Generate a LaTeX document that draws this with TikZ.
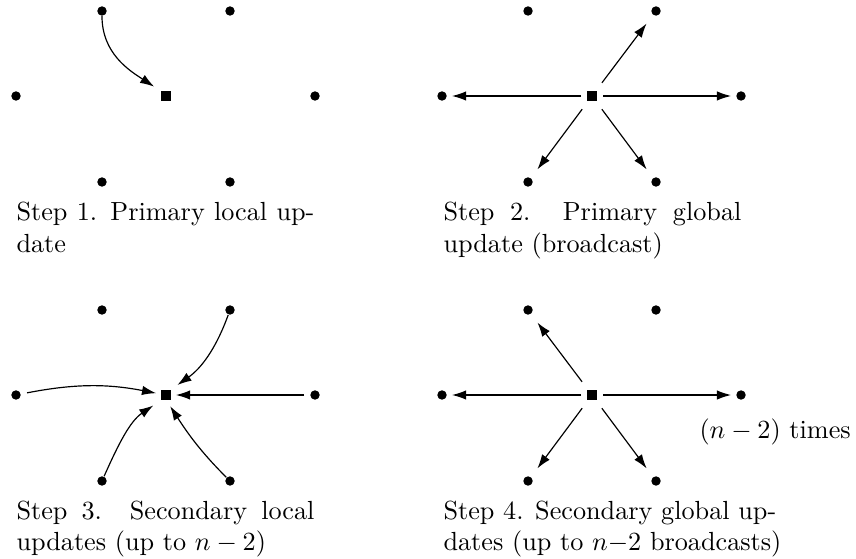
\documentclass[tikz,border=0pt]{standalone}
\usetikzlibrary{arrows.meta}
\begin{document}
\begin{tikzpicture}[x=0.3817pt,y=0.3817pt,
  dot/.style={circle,fill,inner sep=0pt,minimum size=3.6pt},
  sq/.style={rectangle,fill,inner sep=0pt,minimum size=3.6pt},
  arr/.style={line width=0.45pt,-{Latex[length=5.4pt,width=3.6pt]}},
  hz/.style={arr,shorten <=2.2pt,shorten >=1.8pt},
  dg/.style={arr,shorten <=3.8pt,shorten >=4pt},
  captext/.style={anchor=base west,inner sep=0pt,text width=113.7pt,align=justify},
  note/.style={anchor=base west,inner sep=0pt}]
\useasboundingbox (0,0) rectangle (856,-558);
% nodes of the four panels
\foreach \p/\dx/\dy in {1/0/0,2/426/0,3/0/299,4/426/299}{
  \node[sq]  (s\p) at (166+\dx,-96-\dy) {};
  \node[dot] (a\p) at (102+\dx,-11-\dy) {};
  \node[dot] (b\p) at (230+\dx,-11-\dy) {};
  \node[dot] (c\p) at (16+\dx,-96-\dy) {};
  \node[dot] (d\p) at (315+\dx,-96-\dy) {};
  \node[dot] (e\p) at (102+\dx,-182-\dy) {};
  \node[dot] (f\p) at (230+\dx,-182-\dy) {};
}
% Step 1
\draw[arr,shorten >=3pt] (a1) to[out=-90,in=147] (s1.136);
% Step 2
\draw[hz] (s2) -- (c2);
\draw[hz] (s2) -- (d2);
\draw[dg] (s2) -- (b2);
\draw[dg] (s2) -- (e2);
\draw[dg] (s2) -- (f2);
% Step 3
\draw[arr,shorten <=2.3pt,shorten >=1.8pt] (c3) to[out=11,in=169] (s3.170);
\draw[hz] (d3) -- (s3);
\draw[arr,shorten >=3.2pt] (b3) to[out=-110,in=35] (s3.49);
\draw[arr,shorten >=3.6pt] (e3) to[out=66,in=214] (s3.-133);
\draw[arr,shorten >=2.7pt] (f3) to[out=135,in=-57] (s3.-87);
% Step 4
\draw[hz] (s4) -- (c4);
\draw[hz] (s4) -- (d4);
\draw[dg] (s4) -- (a4);
\draw[dg] (s4) -- (e4);
\draw[dg] (s4) -- (f4);
% captions
\node[captext] (t1) at (16,-221) {Step 1. Primary local up-\linebreak date};
\node[captext] (t2) at (443,-221) {Step 2. Primary global\linebreak update (broadcast)};
\node[captext] (t3) at (16,-519) {Step 3. Secondary local\linebreak updates (up to $n-2$)};
\node[captext] (t4) at (443,-519) {\mbox{Step 4. Secondary global up-}\linebreak\mbox{dates (up to $n{-}2$ broadcasts)}};
\node[note] (times) at (699,-438) {$(n-2)$ times};
\end{tikzpicture}
\end{document}
